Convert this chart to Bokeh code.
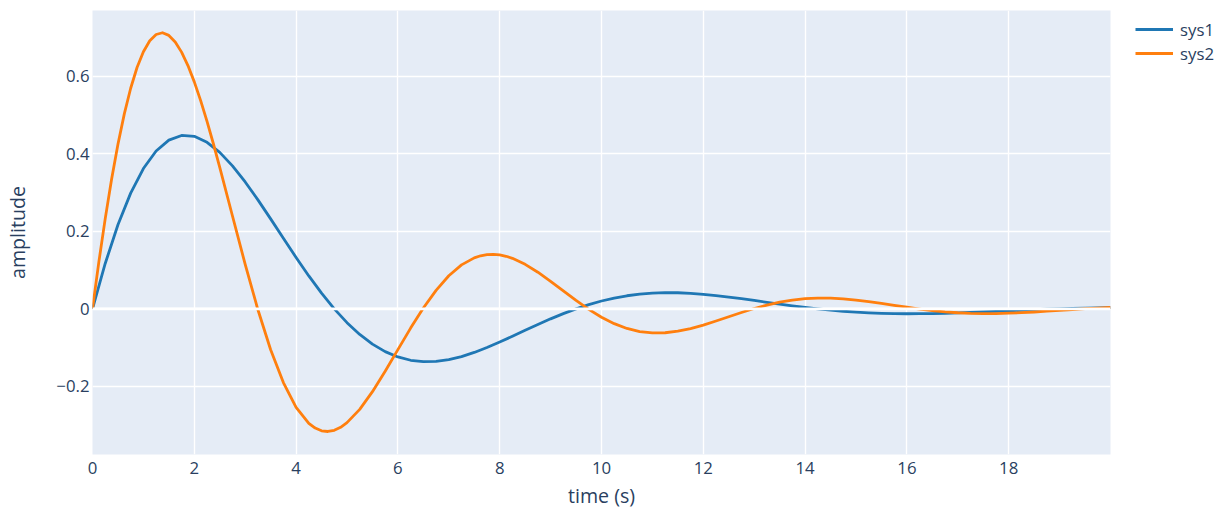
from bokeh.plotting import figure
from bokeh.models import (Range1d, FixedTicker, CustomJSTickFormatter, Span,
                          Legend, LegendItem)
from bokeh.embed import file_html
from bokeh.resources import INLINE

# time axis (s) for sys1
t1 = [0.0, 0.25, 0.5, 0.75, 1.0, 1.25, 1.5, 1.75, 2.0, 2.25, 2.5, 2.75, 3.0, 3.25,
      3.5, 3.75, 4.0, 4.25, 4.5, 4.75, 5.0, 5.25, 5.5, 5.75, 6.0, 6.25, 6.5, 6.75,
      7.0, 7.25, 7.5, 7.75, 8.0, 8.25, 8.5, 8.75, 9.0, 9.25, 9.5, 9.75, 10.0, 10.25,
      10.5, 10.75, 11.0, 11.25, 11.5, 11.75, 12.0, 12.25, 12.5, 12.75, 13.0, 13.25,
      13.5, 13.75, 14.0, 14.25, 14.5, 14.75, 15.0, 15.25, 15.5, 15.75, 16.0, 16.25,
      16.5, 16.75, 17.0, 17.25, 17.5, 17.75, 18.0, 18.25, 18.5, 18.75, 19.0, 19.25,
      19.5, 19.75, 20.0]

sys1 = [0.0, 0.1169, 0.2166, 0.2983, 0.3616, 0.4069, 0.4348, 0.4469, 0.4446, 0.4292,
        0.4032, 0.3685, 0.3270, 0.2808, 0.2318, 0.1818, 0.1323, 0.0848, 0.0403, 0.0,
        -0.0357, -0.0661, -0.0910, -0.1103, -0.1241, -0.1326, -0.1363, -0.1356, -0.1309,
        -0.1230, -0.1124, -0.0997, -0.0856, -0.0707, -0.0554, -0.0403, -0.0258, -0.0123,
        0.0, 0.0109, 0.0202, 0.0278, 0.0337, 0.0379, 0.0405, 0.0416, 0.0414, 0.0399,
        0.0375, 0.0343, 0.0304, 0.0261, 0.0216, 0.0169, 0.0123, 0.0079, 0.0037, 0.0,
        -0.0033, -0.0062, -0.0085, -0.0103, -0.0116, -0.0123, -0.0127, -0.0126, -0.0122,
        -0.0114, -0.0105, -0.0093, -0.0080, -0.0066, -0.0052, -0.0038, -0.0024, -0.0011,
        0.0, 0.0010, 0.0019, 0.0026, 0.0031]

# time axis (s) for sys2 (denser around its turning points)
t2 = [0.0, 0.125, 0.25, 0.375, 0.5, 0.625, 0.75, 0.875, 1.0, 1.125, 1.25, 1.375,
      1.5, 1.625, 1.75, 1.875, 2.0, 2.125, 2.25, 2.375, 2.5, 2.75, 3.0, 3.25, 3.5,
      3.75, 4.0, 4.25, 4.375, 4.5, 4.625, 4.75, 4.875, 5.0, 5.25, 5.5, 5.75, 6.0,
      6.25, 6.5, 6.75, 7.0, 7.25, 7.5, 7.625, 7.75, 7.875, 8.0, 8.125, 8.25, 8.5,
      8.75, 9.0, 9.25, 9.5, 9.75, 10.0, 10.25, 10.5, 10.75, 11.0, 11.25, 11.5, 11.75,
      12.0, 12.25, 12.5, 12.75, 13.0, 13.25, 13.5, 13.75, 14.0, 14.25, 14.5, 14.75,
      15.0, 15.25, 15.5, 15.75, 16.0, 16.25, 16.5, 16.75, 17.0, 17.25, 17.5, 17.75,
      18.0, 18.25, 18.5, 18.75, 19.0, 19.25, 19.5, 19.75, 20.0]

sys2 = [0.0, 0.1209, 0.2326, 0.3340, 0.4242, 0.5026, 0.5685, 0.6220, 0.6626, 0.6910,
        0.7071, 0.7116, 0.7048, 0.6880, 0.6617, 0.6271, 0.5850, 0.5366, 0.4831, 0.4255,
        0.3649, 0.2393, 0.1145, -0.0024, -0.1054, -0.1901, -0.2538, -0.2951, -0.3074,
        -0.3144, -0.3162, -0.3130, -0.3053, -0.2934, -0.2591, -0.2136, -0.1610, -0.1051,
        -0.0497, 0.0021, 0.0477, 0.0852, 0.1133, 0.1314, 0.1368, 0.1398, 0.1405, 0.1390,
        0.1355, 0.1301, 0.1147, 0.0944, 0.0710, 0.0462, 0.0216, -0.0014, -0.0216,
        -0.0382, -0.0506, -0.0585, -0.0621, -0.0617, -0.0577, -0.0508, -0.0418, -0.0313,
        -0.0203, -0.0094, 0.0008, 0.0098, 0.0171, 0.0226, 0.0261, 0.0276, 0.0274,
        0.0256, 0.0225, 0.0185, 0.0138, 0.0089, 0.0041, -0.0005, -0.0044, -0.0077,
        -0.0101, -0.0116, -0.0123, -0.0122, -0.0113, -0.0100, -0.0082, -0.0061, -0.0039,
        -0.0018, 0.0003, 0.0020, 0.0034]

series_names = ["sys1", "sys2"]
series_colors = ["#1f77b4", "#ff7f0e"]
x_ticks = [0, 2, 4, 6, 8, 10, 12, 14, 16, 18]
y_ticks = [-0.2, 0, 0.2, 0.4, 0.6]

FONT = "Open Sans"
TXT = "#2a3f5f"

p = figure(frame_width=1018, frame_height=444,
           output_backend="svg", toolbar_location=None,
           x_range=Range1d(0, 20), y_range=Range1d(-0.3755, 0.769),
           min_border_left=92, min_border_right=112, min_border_top=10,
           min_border_bottom=56,
           background_fill_color="#E5ECF6", border_fill_color="white",
           outline_line_color=None)

# grid
for g in (p.xgrid, p.ygrid):
    g.grid_line_color = "white"
    g.grid_line_width = 1.4
p.xgrid.ticker = FixedTicker(ticks=x_ticks)
p.ygrid.ticker = FixedTicker(ticks=y_ticks)
p.add_layout(Span(location=0, dimension="width", line_color="white", line_width=2.8))

# axes
p.xaxis.ticker = FixedTicker(ticks=x_ticks)
p.yaxis.ticker = FixedTicker(ticks=y_ticks)
p.yaxis.formatter = CustomJSTickFormatter(code="""
    if (Math.abs(tick) < 1e-9) return '0';
    var s = Math.abs(tick).toFixed(1);
    return tick < 0 ? '\\u2212' + s : s;
""")
for ax in (p.xaxis, p.yaxis):
    ax.axis_line_color = None
    ax.major_tick_line_color = None
    ax.minor_tick_line_color = None
    ax.major_tick_out = 0
    ax.major_tick_in = 0
    ax.major_label_text_color = TXT
    ax.major_label_text_font = FONT
    ax.major_label_text_font_size = "16.8px"
    ax.axis_label_text_color = TXT
    ax.axis_label_text_font = FONT
    ax.axis_label_text_font_size = "19.6px"
    ax.axis_label_text_font_style = "normal"
p.xaxis.axis_label = "time (s)"
p.yaxis.axis_label = "amplitude"
p.xaxis.major_label_standoff = 7
p.xaxis.axis_label_standoff = 5
p.yaxis.major_label_standoff = 3
p.yaxis.axis_label_standoff = 22

# lines
renderers = []
for ts, ys, c in zip([t1, t2], [sys1, sys2], series_colors):
    r = p.line(ts, ys, line_color=c, line_width=2.8, line_join="round")
    renderers.append(r)

legend = Legend(items=[LegendItem(label=n, renderers=[r])
                       for n, r in zip(series_names, renderers)],
                location=(25, 389))
legend.border_line_color = None
legend.background_fill_alpha = 0
legend.label_text_font = FONT
legend.label_text_font_size = "16.8px"
legend.label_text_color = TXT
legend.glyph_width = 38
legend.glyph_height = 24
legend.label_height = 24
legend.label_standoff = 7
legend.spacing = 0
legend.padding = 0
legend.margin = 0
p.add_layout(legend, "right")

open("out.html", "w").write(file_html(p, INLINE))
